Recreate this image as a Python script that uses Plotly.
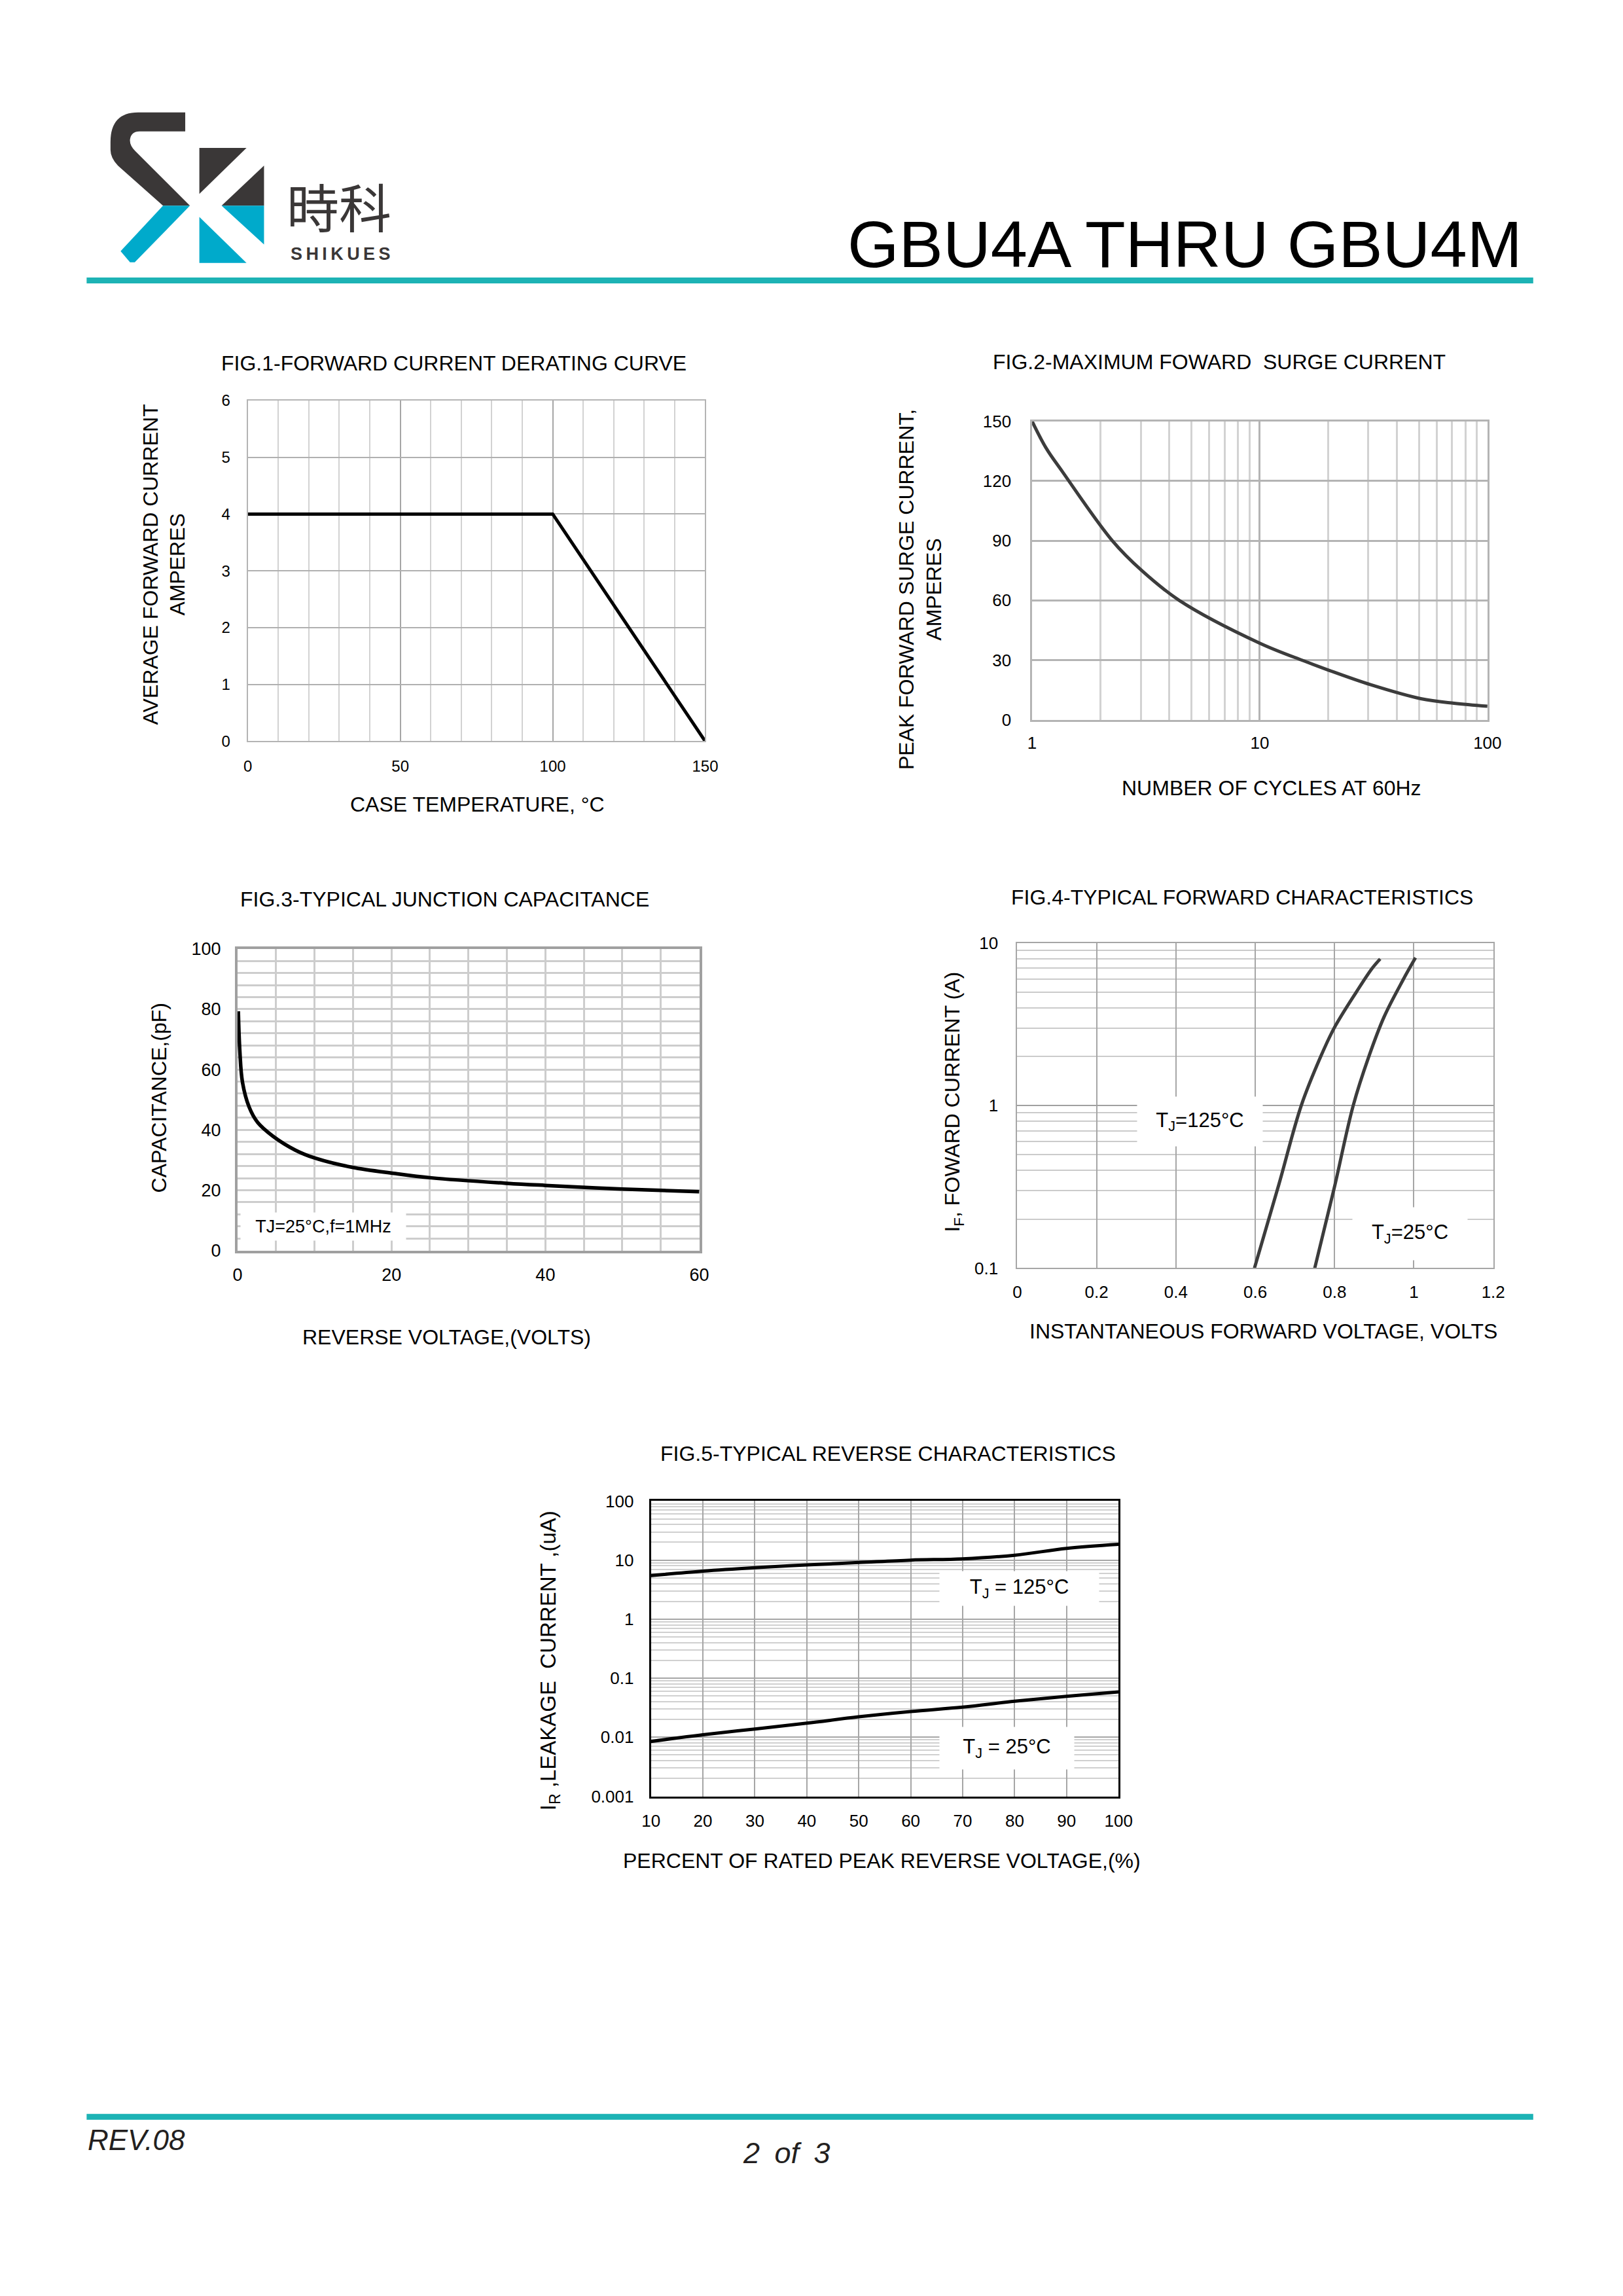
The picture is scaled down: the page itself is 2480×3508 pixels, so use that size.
import math
import plotly.graph_objects as go

W, H = 2480, 3508
FONT = "Liberation Sans, Arial, sans-serif"
TEAL = "#1db3b5"
LOGO_DARK = "#3a3737"
LOGO_BLUE = "#00aacb"

# FIG.1 forward current derating curve
fig1_temp = [0, 100, 150]
fig1_current = [4, 4, 0]

# FIG.2 maximum forward surge current
fig2_cycles = [1, 1.15, 1.36, 2.25, 3.03, 4.43, 10, 15.7, 20.2, 30.7, 51, 71.4, 100]
fig2_current = [150, 136.7, 124.6, 90, 75, 60, 38.5, 29.5, 24.8, 17.6, 10.6, 8.3, 6.8]

# FIG.3 typical junction capacitance
fig3_voltage = [0.1, 0.3, 0.64, 1.5, 2.6, 4.6, 7.5, 10, 14.9, 20.3, 25.2, 35, 40, 50, 60]
fig3_cap = [79.3, 66, 55.8, 47.6, 42.5, 37.9, 33.3, 30.7, 27.6, 25.6, 24.1, 22.3, 21.6, 20.4, 19.5]

# FIG.4 typical forward characteristics
fig4_v_125 = [0.598, 0.66, 0.716, 0.765, 0.799, 0.855, 0.895, 0.915]
fig4_i_125 = [0.1, 0.33, 1.0, 2.0, 3.0, 5.0, 7.0, 7.98]
fig4_v_25 = [0.750, 0.799, 0.847, 0.886, 0.925, 0.973, 1.004]
fig4_i_25 = [0.1, 0.31, 1.0, 1.99, 3.52, 5.95, 8.11]

# FIG.5 typical reverse characteristics
fig5_pct = [10, 20, 30, 40, 50, 60, 70, 80, 90, 100]
fig5_ir_125 = [5.47, 6.5, 7.43, 8.3, 9.1, 10.0, 10.5, 12.1, 15.8, 18.5]
fig5_ir_25 = [0.0085, 0.011, 0.0138, 0.0173, 0.0222, 0.0273, 0.0324, 0.0407, 0.0494, 0.0585]

# log tick helpers
decades_4 = [0.1, 1, 10]
decades_5 = [0.001, 0.01, 0.1, 1, 10, 100]
cycles_major = [1, 10, 100]


def minor_log(decs):
    vals = []
    for d in decs[:-1]:
        vals += [d * k for k in range(2, 10)]
    return vals


def dom(l, t, r, b):
    return dict(x=[l / W, r / W], y=[1 - b / H, 1 - t / H])


def P(x, y):
    # logo drawing coords -> paper
    nx = 149 + (x - 169) * 1.044
    ny = 150 + (y - 169) * 1.013
    return f"{nx / W:.5f},{1 - ny / H:.5f}"


fig = go.Figure()

fig.add_trace(go.Scatter(x=fig1_temp, y=fig1_current, mode="lines",
                         line=dict(color="black", width=5), xaxis="x", yaxis="y"))
fig.add_trace(go.Scatter(x=fig2_cycles, y=fig2_current, mode="lines", line_shape="spline",
                         line=dict(color="#3c3c3c", width=5), xaxis="x2", yaxis="y2"))
fig.add_trace(go.Scatter(x=fig3_voltage, y=fig3_cap, mode="lines", line_shape="spline",
                         line=dict(color="black", width=5.5), xaxis="x3", yaxis="y3"))
fig.add_trace(go.Scatter(x=fig4_v_125, y=fig4_i_125, mode="lines", line_shape="spline",
                         line=dict(color="#3c3c3c", width=5), xaxis="x4", yaxis="y4"))
fig.add_trace(go.Scatter(x=fig4_v_25, y=fig4_i_25, mode="lines", line_shape="spline",
                         line=dict(color="#3c3c3c", width=5), xaxis="x4", yaxis="y4"))
fig.add_trace(go.Scatter(x=fig5_pct, y=fig5_ir_125, mode="lines", line_shape="spline",
                         line=dict(color="black", width=5), xaxis="x5", yaxis="y5"))
fig.add_trace(go.Scatter(x=fig5_pct, y=fig5_ir_25, mode="lines", line_shape="spline",
                         line=dict(color="black", width=5), xaxis="x5", yaxis="y5"))

tick_font = dict(family=FONT, size=25, color="black")
common = dict(showline=True, mirror=True, zeroline=False, ticks="", tickfont=tick_font,
              fixedrange=True)

d1 = dom(362, 594, 1071, 1119)
d2 = dom(1578, 626, 2284, 1086)
d3 = dom(346, 1439, 1062, 1904)
d4 = dom(1555, 1430, 2293, 1931)
d5 = dom(987, 2290, 1712, 2745)

fig.update_layout(
    xaxis=dict(common, domain=d1["x"], anchor="y", range=[0, 150], tickvals=[0, 50, 100, 150],
               gridcolor="#a6a6a6", gridwidth=2, linecolor="#b4b4b4", linewidth=2,
               minor=dict(dtick=10, tick0=0, showgrid=True, gridcolor="#d2d2d2", gridwidth=2),
               ticklabelstandoff=16, tickfont=dict(tick_font, size=24)),
    yaxis=dict(common, domain=d1["y"], anchor="x", range=[0, 6], dtick=1,
               gridcolor="#b0b0b0", gridwidth=2, linecolor="#b4b4b4", linewidth=2,
               ticklabelstandoff=20, tickfont=dict(tick_font, size=24)),
    xaxis2=dict(common, domain=d2["x"], anchor="y2", type="log", range=[0, 2],
                tickvals=cycles_major, ticktext=["1", "10", "100"],
                gridcolor="#b4b4b4", gridwidth=2.5, linecolor="#b4b4b4", linewidth=2.5,
                minor=dict(tickvals=minor_log(cycles_major), showgrid=True,
                           gridcolor="#d2d2d2", gridwidth=2.5),
                ticklabelstandoff=10, tickfont=dict(tick_font, size=26)),
    yaxis2=dict(common, domain=d2["y"], anchor="x2", range=[0, 150], dtick=30,
                gridcolor="#b4b4b4", gridwidth=2.5, linecolor="#b4b4b4", linewidth=2.5,
                ticklabelstandoff=24, tickfont=dict(tick_font, size=26)),
    xaxis3=dict(common, domain=d3["x"], anchor="y3", range=[0, 60], dtick=20,
                gridcolor="#cdcdcd", gridwidth=2.5, linecolor="#a0a0a0", linewidth=4,
                minor=dict(dtick=5, showgrid=True, gridcolor="#cdcdcd", gridwidth=2.5),
                ticklabelstandoff=10, tickfont=dict(tick_font, size=27)),
    yaxis3=dict(common, domain=d3["y"], anchor="x3", range=[0, 100], dtick=20,
                gridcolor="#cdcdcd", gridwidth=2.5, linecolor="#a0a0a0", linewidth=4,
                minor=dict(dtick=4, showgrid=True, gridcolor="#cdcdcd", gridwidth=2.5),
                ticklabelstandoff=16, tickfont=dict(tick_font, size=27)),
    xaxis4=dict(common, domain=d4["x"], anchor="y4", range=[0, 1.2], dtick=0.2,
                gridcolor="#a6a6a6", gridwidth=2, linecolor="#a6a6a6", linewidth=2,
                ticklabelstandoff=12, tickfont=dict(tick_font, size=26)),
    yaxis4=dict(common, domain=d4["y"], anchor="x4", type="log", range=[-1, 1],
                tickvals=decades_4, ticktext=["0.1", "1", "10"],
                gridcolor="#a0a0a0", gridwidth=2, linecolor="#a6a6a6", linewidth=2,
                minor=dict(tickvals=minor_log(decades_4), showgrid=True,
                           gridcolor="#cbcbcb", gridwidth=2),
                ticklabelstandoff=22, tickfont=dict(tick_font, size=26)),
    xaxis5=dict(common, domain=d5["x"], anchor="y5", range=[10, 100], dtick=10,
                gridcolor="#a6a6a6", gridwidth=2, linecolor="black", linewidth=3,
                ticklabelstandoff=12, tickfont=dict(tick_font, size=26)),
    yaxis5=dict(common, domain=d5["y"], anchor="x5", type="log", range=[-3, 2],
                tickvals=decades_5, ticktext=["0.001", "0.01", "0.1", "1", "10", "100"],
                gridcolor="#a6a6a6", gridwidth=2, linecolor="black", linewidth=3,
                minor=dict(tickvals=minor_log(decades_5), showgrid=True,
                           gridcolor="#d0d0d0", gridwidth=1.5),
                ticklabelstandoff=18, tickfont=dict(tick_font, size=26)),
)


def note(text, x, y, size, angle=0, color="black", family=FONT, xanchor="center"):
    fig.add_annotation(text=text, x=x / W, y=1 - y / H, xref="paper", yref="paper",
                       showarrow=False, textangle=angle, xanchor=xanchor, yanchor="middle",
                       font=dict(family=family, size=size, color=color))


# page header
note("GBU4A THRU GBU4M", 1815, 353, 101)
note("時科", 503, 292, 80, color=LOGO_DARK, family="Noto Sans CJK JP")
note("<b>S\u2009H\u2009I\u2009K\u2009U\u2009E\u2009S</b>", 505, 368, 27, color=LOGO_DARK)

# footer
note("<i>REV.08</i>", 112, 3275, 44, xanchor="left", color="#231f20")
note("<i>2\u2002of\u20023</i>", 1197, 3295, 45, color="#231f20")

# chart titles
note("FIG.1-FORWARD CURRENT DERATING CURVE", 681, 537, 32)
note("FIG.2-MAXIMUM FOWARD \u00a0SURGE CURRENT", 1868, 535, 32)
note("FIG.3-TYPICAL JUNCTION CAPACITANCE", 667, 1363, 32)
note("FIG.4-TYPICAL FORWARD CHARACTERISTICS", 1904, 1360, 32)
note("FIG.5-TYPICAL REVERSE CHARACTERISTICS", 1355, 2217, 32)

# axis titles
note("CASE TEMPERATURE, °C", 718, 1216, 32)
note("AVERAGE FORWARD CURRENT<br>AMPERES", 232, 847, 32, angle=-90)
note("NUMBER OF CYCLES AT 60Hz", 1949, 1191, 32)
note("PEAK FORWARD SURGE CURRENT,<br>AMPERES", 1405, 885, 32, angle=-90)
note("REVERSE VOLTAGE,(VOLTS)", 670, 2037, 32)
note("CAPACITANCE,(pF)", 224, 1669, 32, angle=-90)
note("INSTANTANEOUS FORWARD VOLTAGE, VOLTS", 1937, 2028, 32)
note("I<sub>F</sub>, FOWARD CURRENT (A)", 1457, 1675, 32, angle=-90)
note("PERCENT OF RATED PEAK REVERSE VOLTAGE,(%)", 1345, 2844, 32)
note("I<sub>R</sub> ,LEAKAGE \u00a0CURRENT ,(uA)", 830, 2536, 33, angle=-90)


def label(text, ax, x, y, w, h, size=31, log_y=False):
    fig.add_annotation(text=text, xref=ax[0], yref=ax[1], x=x,
                       y=math.log10(y) if log_y else y, showarrow=False,
                       xanchor="center", yanchor="middle",
                       width=w, height=h, bgcolor="white", align="center", valign="middle",
                       font=dict(family=FONT, size=size, color="black"))


label("TJ=25°C,f=1MHz", ("x3", "y3"), 11.1, 7.95, 250, 40, size=27)
label("T<sub>J</sub>=125°C", ("x4", "y4"), 0.461, 0.795, 189, 73, log_y=True)
label("T<sub>J</sub>=25°C", ("x4", "y4"), 0.99, 0.163, 173, 78, log_y=True)
label("T<sub>J</sub> = 125°C", ("x5", "y5"), 80.9, 3.3, 241, 50, log_y=True)
label("T<sub>J</sub> = 25°C", ("x5", "y5"), 78.5, 0.0066, 203, 62, log_y=True)

# header / footer rules
shapes = [
    dict(type="line", xref="paper", yref="paper", x0=112 / W, x1=2355 / W,
         y0=1 - 409 / H, y1=1 - 409 / H, line=dict(color=TEAL, width=9)),
    dict(type="line", xref="paper", yref="paper", x0=112 / W, x1=2355 / W,
         y0=1 - 3239 / H, y1=1 - 3239 / H, line=dict(color=TEAL, width=9)),
]

# logo
logo_paths = [
    (LOGO_DARK, f"M{P(280,169)} L{P(210,169)} Q{P(169,169)} {P(169,214)} L{P(169,226)} "
                f"Q{P(169,238)} {P(180,250)} L{P(247,311)} L{P(287,311)} L{P(206,228)} "
                f"Q{P(197,219)} {P(198,210)} Q{P(200,198)} {P(212,198)} L{P(280,198)} Z"),
    (LOGO_BLUE, f"M{P(247,311)} L{P(287,311)} L{P(205,397)} L{P(198,397)} L{P(184,380)} Z"),
    (LOGO_DARK, f"M{P(301,223)} L{P(371,223)} L{P(301,293)} Z"),
    (LOGO_DARK, f"M{P(397,250)} L{P(397,311)} L{P(334,311)} Z"),
    (LOGO_BLUE, f"M{P(334,311)} L{P(397,311)} L{P(397,370)} Z"),
    (LOGO_BLUE, f"M{P(301,328)} L{P(301,398)} L{P(371,398)} Z"),
]
for color, path in logo_paths:
    shapes.append(dict(type="path", xref="paper", yref="paper", path=path,
                       fillcolor=color, line=dict(width=0)))

fig.update_layout(
    width=W, height=H, margin=dict(l=0, r=0, t=0, b=0),
    paper_bgcolor="white", plot_bgcolor="white", showlegend=False,
    font=dict(family=FONT, color="black"),
    shapes=shapes,
)

fig.write_html("out.html")
